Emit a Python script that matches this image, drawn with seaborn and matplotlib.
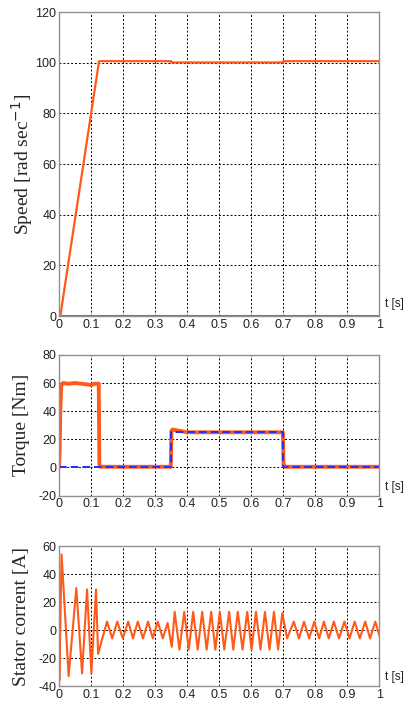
import numpy as np
import pandas as pd
import matplotlib
matplotlib.use("Agg")
import matplotlib.pyplot as plt
import seaborn as sns

# ---------------- data ----------------
speed_t = [0.0, 0.004, 0.125, 0.35, 0.35, 0.70, 0.70, 1.0]
speed_v = [0.0, 0.0, 100.6, 100.6, 100.1, 100.1, 100.6, 100.6]
speed_ref_t = [0.0, 1.0]
speed_ref_v = [0.0, 0.0]

torque_t = [0.0, 0.002, 0.004, 0.007, 0.012, 0.03, 0.05, 0.07, 0.09, 0.10, 0.11, 0.124,
            0.126, 0.13, 0.2, 0.3, 0.349, 0.351, 0.354, 0.4, 0.5, 0.6, 0.699, 0.701, 0.705, 0.8, 0.9, 1.0]
torque_v = [0.0, 12.0, 40.0, 58.0, 60.0, 59.5, 60.0, 59.5, 59.0, 58.5, 59.5, 59.5,
            2.0, 0.5, 0.5, 0.5, 0.5, 26.0, 27.0, 25.0, 25.0, 25.0, 25.0, 1.5, 0.5, 0.5, 0.5, 0.5]
load_t = [0.0, 0.35, 0.35, 0.70, 0.70, 1.0]
load_v = [0.0, 0.0, 25.0, 25.0, 0.0, 0.0]

current_t = [0.0, 0.001, 0.008, 0.030, 0.054, 0.072, 0.0875, 0.101, 0.1156, 0.122,
             0.134, 0.150, 0.166, 0.182, 0.199, 0.216, 0.231, 0.246, 0.262, 0.278,
             0.293, 0.308, 0.324, 0.339, 0.352,
             0.361, 0.376, 0.391, 0.405, 0.419, 0.433, 0.447, 0.461, 0.475, 0.488,
             0.502, 0.516, 0.531, 0.544, 0.558, 0.573, 0.5875, 0.601, 0.615, 0.629,
             0.643, 0.657, 0.671, 0.684, 0.697,
             0.712, 0.733, 0.749, 0.765, 0.781, 0.797, 0.812, 0.827, 0.842, 0.858,
             0.874, 0.891, 0.907, 0.923, 0.939, 0.956, 0.971, 0.9875, 1.0]
current_v = [8.0, -36.0, 54.0, -33.0, 30.0, -31.0, 29.0, -31.0, 29.0, -17.0,
             -7.0, 6.0, -6.0, 6.0, -6.0, 6.0, -6.0, 6.0, -6.0, 6.0,
             -6.0, 6.0, -6.0, 5.0, -12.0,
             13.0, -14.0, 13.0, -14.0, 13.0, -14.0, 13.0, -14.0, 13.0, -14.0,
             13.0, -14.0, 13.0, -14.0, 13.0, -14.0, 13.0, -14.0, 13.0, -14.0,
             13.0, -14.0, 13.0, -14.0, 12.0,
             -6.0, 6.0, -6.0, 6.0, -6.0, 6.0, -6.0, 6.0, -6.0, 6.0,
             -6.0, 6.0, -6.0, 6.0, -6.0, 6.0, -6.0, 6.0, -4.0]

xticks = [0, 0.1, 0.2, 0.3, 0.4, 0.5, 0.6, 0.7, 0.8, 0.9, 1.0]
xtick_labels = ["0", "0.1", "0.2", "0.3", "0.4", "0.5", "0.6", "0.7", "0.8", "0.9", "1"]

# ---------------- style ----------------
sns.set_style("white")
plt.rcParams['font.family'] = ['Liberation Sans', 'DejaVu Sans']

ORANGE = "#ff5a1a"
BLUE = "#1f2fff"
GREEN = "#22b022"

fig = plt.figure(figsize=(4.07, 7.07), dpi=100)
left, width = 0.145, 0.787
ax1 = fig.add_axes([left, 0.553, width, 0.430])
ax2 = fig.add_axes([left, 0.299, width, 0.199])
ax3 = fig.add_axes([left, 0.0297, width, 0.198])


def style_axis(ax, ylim, yticks, ylabel, labelpad):
    ax.set_xlim(0, 1)
    ax.set_ylim(*ylim)
    ax.set_xticks(xticks)
    ax.set_xticklabels(xtick_labels)
    ax.set_yticks(yticks)
    ax.set_yticklabels([str(v) for v in yticks])
    ax.grid(True, color="black", linestyle=(0, (2, 2)), linewidth=0.7)
    ax.tick_params(axis="both", labelsize=9, direction="in", length=3,
                   color="#606060", pad=2, labelcolor="#222222")
    for s in ax.spines.values():
        s.set_color("#909090")
        s.set_linewidth(1.0)
    ax.set_ylabel(ylabel, family="Liberation Serif", fontsize=14, labelpad=labelpad)
    ax.text(1.018, 0.02, "t [s]", transform=ax.transAxes, fontsize=8.5,
            ha="left", va="bottom", color="#222222")
    ax.set_xlabel("")


# Speed
sns.lineplot(x=speed_ref_t, y=speed_ref_v, ax=ax1, color=GREEN, linewidth=1.5,
             estimator=None, sort=False)
sns.lineplot(x=speed_t, y=speed_v, ax=ax1, color=ORANGE, linewidth=1.6,
             estimator=None, sort=False)
style_axis(ax1, (0, 120), [0, 20, 40, 60, 80, 100, 120], "Speed [rad sec$^{-1}$]", 0)

# Torque
sns.lineplot(x=torque_t, y=torque_v, ax=ax2, color=ORANGE, linewidth=2.8,
             estimator=None, sort=False)
sns.lineplot(x=load_t, y=load_v, ax=ax2, color=BLUE, linewidth=1.4,
             linestyle=(0, (4, 2)), estimator=None, sort=False)
style_axis(ax2, (-20, 80), [-20, 0, 20, 40, 60, 80], "Torque [Nm]", 6)

# Current
sns.lineplot(x=current_t, y=current_v, ax=ax3, color=ORANGE, linewidth=1.5,
             estimator=None, sort=False)
style_axis(ax3, (-40, 60), [-40, -20, 0, 20, 40, 60], "Stator corrent [A]", 6)

fig.savefig("out.png", dpi=100)
